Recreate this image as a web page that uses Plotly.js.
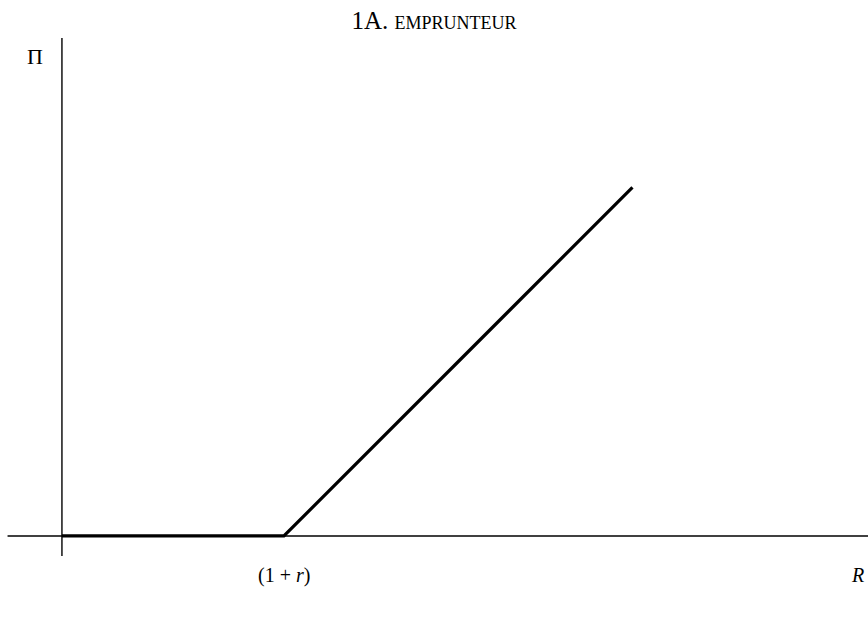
<!DOCTYPE html>
<html>
<head>
<meta charset="utf-8">
<script src="https://cdn.plot.ly/plotly-3.0.1.min.js"></script>
<style>html,body{margin:0;padding:0;background:#fff;}#chart{width:868px;height:619px;}</style>
</head>
<body>
<div id="chart"></div>
<script>
// Payoff of the borrower: Π = max(0, R - (1+r)), with (1+r) normalised to 1
const payoffR = [0, 1, 2.57];
const payoffPi = [0, 0, 1.57];
const hAxisX = [-0.245, 3.631];
const hAxisY = [0, 0];
const vAxisX = [0, 0];
const vAxisY = [-0.09, 2.243];
const kinkLabel = "(1 + <i>r</i>)";
const kinkValue = 1;
const xLabel = "<i>R</i>";
const yLabel = "Π";
const titleText = "1A. <span style='font-size:18px'>EMPRUNTEUR</span>";

const serif = "Liberation Serif, Times New Roman, serif";

const traces = [
  {x: hAxisX, y: hAxisY, mode: "lines", line: {color: "#000", width: 1.4}, hoverinfo: "skip"},
  {x: vAxisX, y: vAxisY, mode: "lines", line: {color: "#000", width: 1.4}, hoverinfo: "skip"},
  {x: payoffR, y: payoffPi, mode: "lines", line: {color: "#000", width: 3.2}, hoverinfo: "skip"}
];

const layout = {
  width: 868, height: 619,
  margin: {l: 0, r: 0, t: 0, b: 0},
  paper_bgcolor: "#fff", plot_bgcolor: "#fff",
  showlegend: false,
  title: {text: titleText, font: {family: serif, size: 25, color: "#000"}, x: 0.5, xanchor: "center", y: 0.968, yanchor: "middle"},
  xaxis: {range: [-0.279, 3.631], showgrid: false, zeroline: false, showticklabels: false, ticks: "", showline: false, fixedrange: true},
  yaxis: {range: [-0.374, 2.414], showgrid: false, zeroline: false, showticklabels: false, ticks: "", showline: false, fixedrange: true},
  annotations: [
    {x: kinkValue, y: -0.176, xref: "x", yref: "y", text: kinkLabel, showarrow: false, font: {family: serif, size: 20, color: "#000"}, xanchor: "center", yanchor: "middle"},
    {x: 3.585, y: -0.176, xref: "x", yref: "y", text: xLabel, showarrow: false, font: {family: serif, size: 20, color: "#000"}, xanchor: "center", yanchor: "middle"},
    {x: -0.12, y: 2.16, xref: "x", yref: "y", text: yLabel, showarrow: false, font: {family: serif, size: 22, color: "#000"}, xanchor: "center", yanchor: "middle"}
  ]
};

Plotly.newPlot("chart", traces, layout, {displayModeBar: false, staticPlot: true});
</script>
</body>
</html>
